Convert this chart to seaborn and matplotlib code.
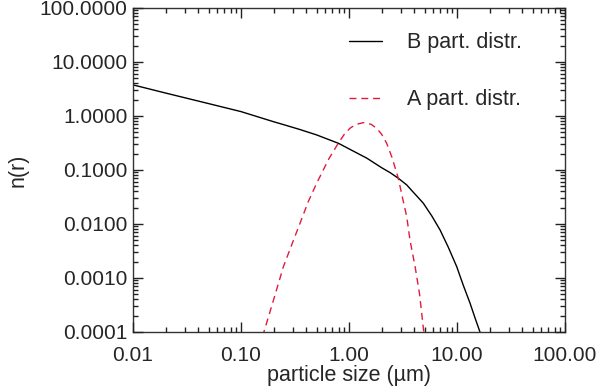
import numpy as np
import pandas as pd
import seaborn as sns
from matplotlib import pyplot as plt
from matplotlib.ticker import FormatStrFormatter, NullFormatter, LogLocator

# valores
b_size = [0.01, 0.02, 0.05, 0.1, 0.2, 0.25, 0.35, 0.5, 0.8, 1.0, 1.46, 2.0, 2.4, 2.86,
          3.42, 4.1, 4.87, 5.83, 6.97, 8.3, 9.93, 11.4, 13.2, 14.7, 16.3, 17.5]
b_n = [3.75, 2.65, 1.69, 1.2, 0.78, 0.685, 0.56, 0.445, 0.31, 0.245, 0.165, 0.11, 0.089,
       0.070, 0.0527, 0.0353, 0.0242, 0.0141, 0.0077, 0.0037, 0.00162, 0.00074, 0.00034,
       0.00018, 0.0001, 0.00005]

a_size = [0.15, 0.163, 0.2, 0.247, 0.3, 0.352, 0.42, 0.502, 0.65, 0.796, 0.9, 1.02,
          1.15, 1.355, 1.6, 1.80, 2.0, 2.23, 2.5, 2.86, 3.1, 3.42, 3.67, 4.09, 4.5,
          4.92, 5.3]
a_n = [0.00005, 0.0001, 0.00039, 0.00162, 0.0045, 0.0103, 0.026, 0.0567, 0.16, 0.312,
       0.45, 0.59, 0.69, 0.75, 0.70, 0.59, 0.46, 0.312, 0.17, 0.070, 0.033, 0.0137,
       0.0050, 0.00162, 0.0005, 0.0001, 0.00004]

df_b = pd.DataFrame({'size': b_size, 'n': b_n})
df_a = pd.DataFrame({'size': a_size, 'n': a_n})

sns.set_style('ticks')
plt.rcParams['font.family'] = ['Liberation Sans', 'DejaVu Sans']

fig = plt.figure(figsize=(6, 3.9), dpi=100)
ax = fig.add_axes([0.2217, 0.149, 0.72, 0.8308])

sns.lineplot(x='size', y='n', data=df_b, ax=ax, color='black', lw=1,
             label='B part. distr.', sort=False)
sns.lineplot(x='size', y='n', data=df_a, ax=ax, color='#e31a3c', lw=1,
             label='A part. distr.', sort=False)
ax.lines[1].set_dashes((5, 3.5))

ax.set_xscale('log')
ax.set_yscale('log')
ax.set_xlim(0.01, 100)
ax.set_ylim(0.0001, 100)
ax.xaxis.set_major_locator(LogLocator(base=10, numticks=15))
ax.yaxis.set_major_locator(LogLocator(base=10, numticks=15))
ax.xaxis.set_minor_locator(LogLocator(base=10, subs=np.arange(2, 10), numticks=15))
ax.yaxis.set_minor_locator(LogLocator(base=10, subs=np.arange(2, 10), numticks=15))
ax.xaxis.set_major_formatter(FormatStrFormatter('%.2f'))
ax.yaxis.set_major_formatter(FormatStrFormatter('%.4f'))
ax.xaxis.set_minor_formatter(NullFormatter())
ax.yaxis.set_minor_formatter(NullFormatter())
for s in ax.spines.values():
    s.set_linewidth(1)
    s.set_color('#333333')

ax.set_xlabel('particle size (µm)', fontsize=15.5, labelpad=0)
ax.set_ylabel('n(r)', fontsize=15.5, labelpad=8)

leg = ax.legend(loc='upper left', bbox_to_anchor=(0.5, 0.925), frameon=False,
                fontsize=15.5, handlelength=1.55, handletextpad=1.15, labelspacing=1.68,
                borderpad=0, borderaxespad=0)
for h in leg.get_lines():
    h.set_linewidth(1)
leg.get_lines()[1].set_dashes((5, 3.5))

# marcas hacia dentro en los cuatro lados (al final, recreando las marcas)
ax.tick_params(reset=True, which='both', direction='in', top=True, right=True,
               labelsize=15, width=1, color='#222222')
ax.tick_params(which='major', length=7)
ax.tick_params(which='minor', length=3.5)
ax.tick_params(axis='x', which='major', pad=10)
ax.tick_params(axis='y', which='major', pad=4)
ax.set_axisbelow(False)

plt.savefig('out.png', dpi=100)
